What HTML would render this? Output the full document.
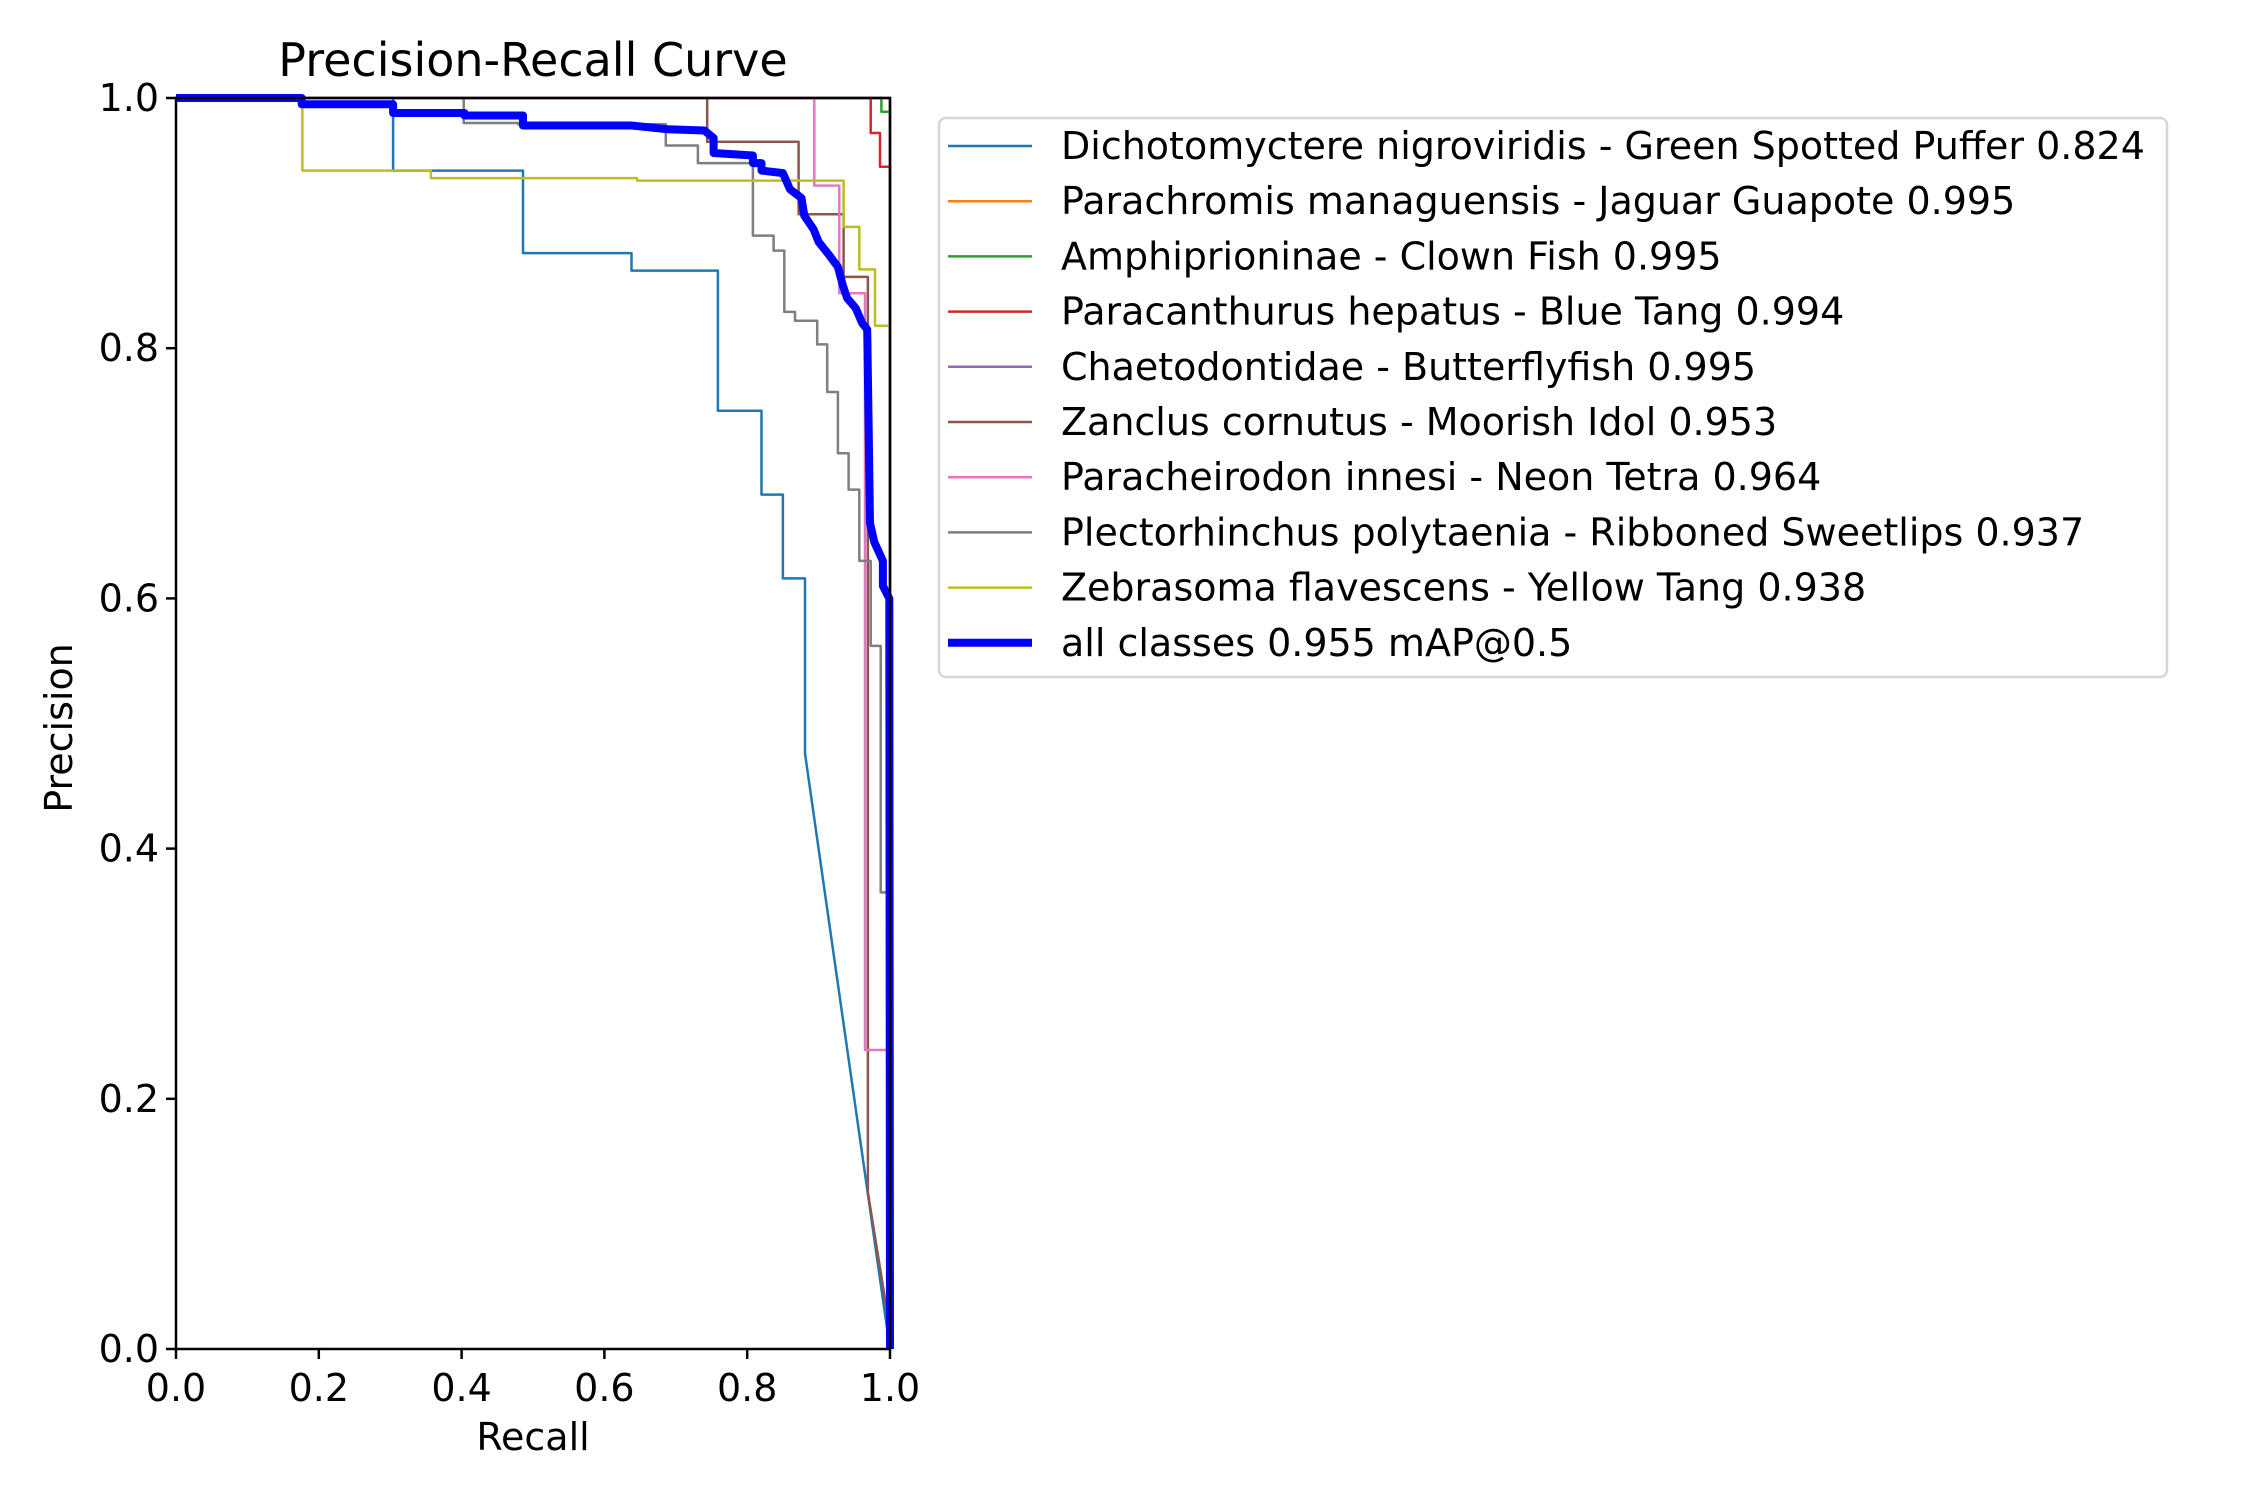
<!DOCTYPE html>
<html><head><meta charset="utf-8"><style>
html,body{margin:0;padding:0;background:#fff;}
svg{display:block;}
text{font-family:"DejaVu Sans","Liberation Sans",sans-serif;fill:#000;}
</style></head><body>
<svg id="chart" width="2250" height="1500" viewBox="0 0 2250 1500" xmlns="http://www.w3.org/2000/svg">
<rect x="0" y="0" width="2250" height="1500" fill="#fff"/>
<text x="533" y="76" font-size="46" text-anchor="middle">Precision-Recall Curve</text>
<g id="plot"></g>
<g id="axes"></g>
<text x="533" y="1450" font-size="38" text-anchor="middle">Recall</text>
<text x="0" y="0" font-size="38" text-anchor="middle" transform="translate(72,728) rotate(-90)">Precision</text>
<g id="legend"></g>
</svg>
<script>
const seriesNames = ["Dichotomyctere nigroviridis - Green Spotted Puffer 0.824","Parachromis managuensis - Jaguar Guapote 0.995","Amphiprioninae - Clown Fish 0.995","Paracanthurus hepatus - Blue Tang 0.994","Chaetodontidae - Butterflyfish 0.995","Zanclus cornutus - Moorish Idol 0.953","Paracheirodon innesi - Neon Tetra 0.964","Plectorhinchus polytaenia - Ribboned Sweetlips 0.937","Zebrasoma flavescens - Yellow Tang 0.938","all classes 0.955 mAP@0.5"];
const seriesColors = ["#1f77b4","#ff7f0e","#2ca02c","#d62728","#9467bd","#8c564b","#e377c2","#7f7f7f","#bcbd22","#0000ff"];
const xTicks = [0,0.2,0.4,0.6,0.8,1.0];
const yTicks = [0,0.2,0.4,0.6,0.8,1.0];
const s0 = [[0,1],[0.304,1],[0.304,0.942],[0.486,0.942],[0.486,0.876],[0.638,0.876],[0.638,0.862],[0.759,0.862],[0.759,0.75],[0.82,0.75],[0.82,0.683],[0.85,0.683],[0.85,0.616],[0.881,0.616],[0.881,0.476],[1.0,0.0]];
const s1 = [[0,1],[0.995,1],[1.0,1],[1.0,0]];
const s2 = [[0,1],[0.988,1],[0.988,0.989],[1.0,0.989],[1.0,0]];
const s3 = [[0,1],[0.973,1],[0.973,0.972],[0.986,0.972],[0.986,0.945],[1.0,0.945],[1.0,0]];
const s4 = [[0,1],[1.0,1],[1.0,0]];
const s5 = [[0,1],[0.744,1],[0.744,0.965],[0.872,0.965],[0.872,0.907],[0.935,0.907],[0.935,0.857],[0.969,0.857],[0.969,0.125],[1.0,0.015]];
const s6 = [[0,1],[0.894,1],[0.894,0.93],[0.929,0.93],[0.929,0.844],[0.965,0.844],[0.965,0.239],[0.997,0.239],[0.997,0]];
const s7 = [[0,1],[0.403,1],[0.403,0.98],[0.479,0.98],[0.479,0.979],[0.686,0.979],[0.686,0.962],[0.731,0.962],[0.731,0.948],[0.808,0.948],[0.808,0.89],[0.837,0.89],[0.837,0.878],[0.852,0.878],[0.852,0.829],[0.867,0.829],[0.867,0.822],[0.898,0.822],[0.898,0.803],[0.912,0.803],[0.912,0.765],[0.927,0.765],[0.927,0.716],[0.942,0.716],[0.942,0.687],[0.957,0.687],[0.957,0.63],[0.973,0.63],[0.973,0.562],[0.987,0.562],[0.987,0.365],[0.997,0.365],[0.997,0]];
const s8 = [[0,1],[0.177,1],[0.177,0.942],[0.357,0.942],[0.357,0.936],[0.646,0.936],[0.646,0.934],[0.935,0.934],[0.935,0.897],[0.957,0.897],[0.957,0.863],[0.979,0.863],[0.979,0.818],[1.0,0.818],[1.0,0]];
const s9 = [[0,1],[0.176,1],[0.176,0.995],[0.304,0.995],[0.304,0.988],[0.404,0.988],[0.404,0.986],[0.486,0.986],[0.486,0.978],[0.638,0.978],[0.689,0.975],[0.74,0.974],[0.753,0.968],[0.753,0.956],[0.808,0.954],[0.808,0.948],[0.82,0.948],[0.82,0.942],[0.85,0.94],[0.86,0.927],[0.876,0.92],[0.88,0.906],[0.893,0.895],[0.9,0.885],[0.914,0.875],[0.927,0.865],[0.934,0.85],[0.94,0.84],[0.952,0.832],[0.961,0.82],[0.968,0.815],[0.97,0.74],[0.972,0.66],[0.978,0.645],[0.99,0.63],[0.99,0.61],[0.999,0.6],[1.0,0]];
const seriesData = [s0,s1,s2,s3,s4,s5,s6,s7,s8,s9];

const X0=176, X1=890, Y0=1349, Y1=98;
function xs(v){return X0+v*(X1-X0);}
function ys(v){return Y0-v*(Y0-Y1);}
const NS="http://www.w3.org/2000/svg";
const plot=document.getElementById('plot');
const axes=document.getElementById('axes');
const legend=document.getElementById('legend');

const clip=document.createElementNS(NS,'clipPath');
clip.setAttribute('id','pclip');
const cr=document.createElementNS(NS,'rect');
cr.setAttribute('x',X0-5);cr.setAttribute('y',Y1-5);cr.setAttribute('width',X1-X0+10);cr.setAttribute('height',Y0-Y1+10);
clip.appendChild(cr);plot.appendChild(clip);
plot.setAttribute('clip-path','url(#pclip)');

seriesData.forEach((d,i)=>{
  const p=document.createElementNS(NS,'polyline');
  p.setAttribute('points',d.map(q=>xs(q[0]).toFixed(1)+','+ys(q[1]).toFixed(1)).join(' '));
  p.setAttribute('fill','none');
  p.setAttribute('stroke',seriesColors[i]);
  p.setAttribute('stroke-width',i===9?8:2.5);
  p.setAttribute('stroke-linejoin','round');
  
  
  plot.appendChild(p);
});

const frame=document.createElementNS(NS,'rect');
frame.setAttribute('x',X0);frame.setAttribute('y',Y1);frame.setAttribute('width',X1-X0);frame.setAttribute('height',Y0-Y1);
frame.setAttribute('fill','none');frame.setAttribute('stroke','#000');frame.setAttribute('stroke-width',2.5);


axes.appendChild(frame);

xTicks.forEach(v=>{
  const l=document.createElementNS(NS,'line');
  l.setAttribute('x1',xs(v));l.setAttribute('x2',xs(v));l.setAttribute('y1',Y0);l.setAttribute('y2',Y0+10);
  l.setAttribute('stroke','#000');l.setAttribute('stroke-width',2.5);
  
  
  axes.appendChild(l);
  const t=document.createElementNS(NS,'text');
  t.setAttribute('x',xs(v));t.setAttribute('y',Y0+52);t.setAttribute('font-size','38');t.setAttribute('text-anchor','middle');
  t.textContent=v.toFixed(1);
  
  
  axes.appendChild(t);
});
yTicks.forEach(v=>{
  const l=document.createElementNS(NS,'line');
  l.setAttribute('x1',X0-10);l.setAttribute('x2',X0);l.setAttribute('y1',ys(v));l.setAttribute('y2',ys(v));
  l.setAttribute('stroke','#000');l.setAttribute('stroke-width',2.5);
  
  
  axes.appendChild(l);
  const t=document.createElementNS(NS,'text');
  t.setAttribute('x',X0-17);t.setAttribute('y',ys(v)+13);t.setAttribute('font-size','38');t.setAttribute('text-anchor','end');
  t.textContent=v.toFixed(1);
  
  
  axes.appendChild(t);
});

const lb=document.createElementNS(NS,'rect');
lb.setAttribute('x',939);lb.setAttribute('y',118);lb.setAttribute('width',1228);lb.setAttribute('height',559);
lb.setAttribute('rx',7);lb.setAttribute('fill','#fff');lb.setAttribute('stroke','#d6d6d6');lb.setAttribute('stroke-width',2.5);


legend.appendChild(lb);
seriesNames.forEach((n,i)=>{
  const y=146+i*55.2;
  const l=document.createElementNS(NS,'line');
  l.setAttribute('x1',948);l.setAttribute('x2',1032);l.setAttribute('y1',y);l.setAttribute('y2',y);
  l.setAttribute('stroke',seriesColors[i]);l.setAttribute('stroke-width',i===9?8:2.5);
  
  
  legend.appendChild(l);
  const t=document.createElementNS(NS,'text');
  t.setAttribute('x',1061);t.setAttribute('y',y+13);t.setAttribute('font-size','38');
  t.textContent=n;
  
  
  legend.appendChild(t);
});
</script>
</body></html>
